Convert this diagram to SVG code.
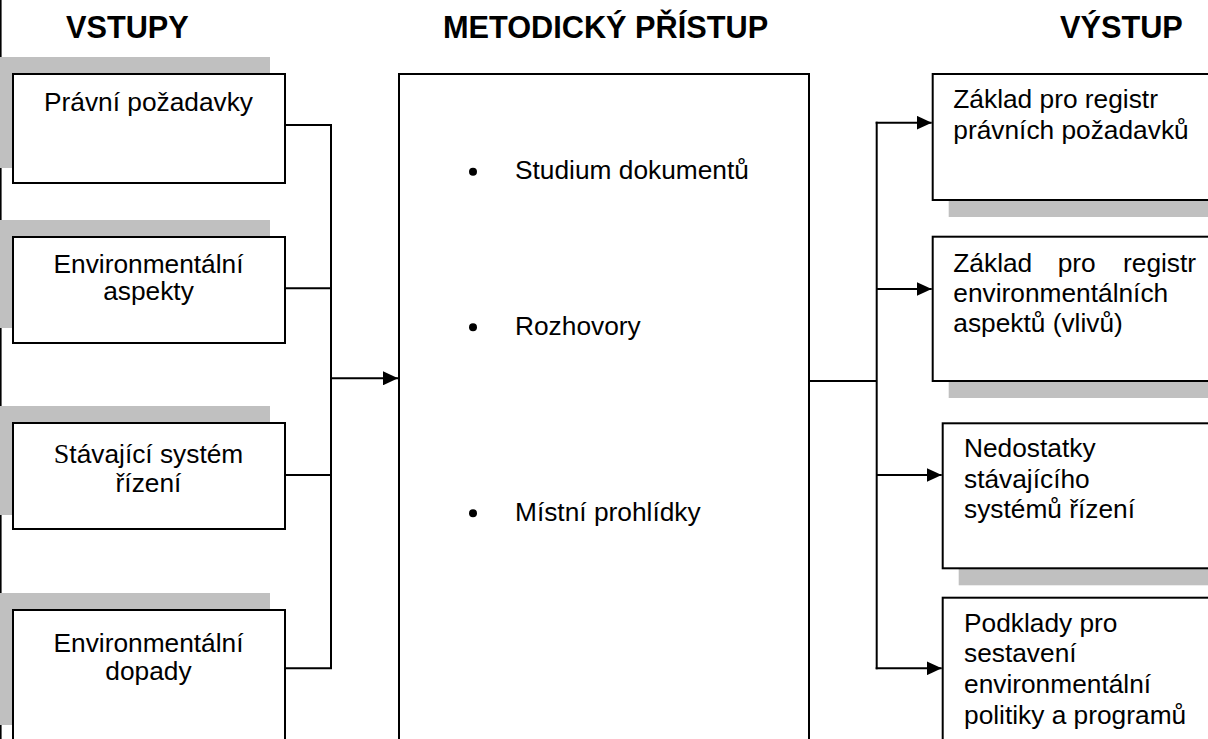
<svg xmlns="http://www.w3.org/2000/svg" width="1208" height="739" viewBox="0 0 1208 739">
  <style>
    .box { fill: #ffffff; stroke: #000000; stroke-width: 2; }
    .shadow { fill: #c0c0c0; stroke: none; }
    .wire { fill: none; stroke: #000000; stroke-width: 2; }
    .head { font-family: "Liberation Sans", Arial, sans-serif; font-weight: bold; font-size: 30.7px; fill: #000000; }
    .txt { font-family: "Liberation Sans", Arial, sans-serif; font-size: 26.3px; fill: #000000; }
    .serif { font-family: "Liberation Serif", "Times New Roman", serif; font-size: 28px; }
    .mid { text-anchor: middle; }
  </style>
  <defs>
    <marker id="arrow" markerUnits="userSpaceOnUse" markerWidth="15" markerHeight="14" refX="15" refY="7" orient="auto">
      <path d="M0,0 L15,7 L0,14 z" fill="#000000"/>
    </marker>
  </defs>

  <rect width="1208" height="739" fill="#ffffff"/>
  <!-- page edge on the left -->
  <line x1="0.8" y1="0" x2="0.8" y2="739" stroke="#000000" stroke-width="1.6"/>

  <!-- column headings -->
  <text class="head" x="66" y="38">VSTUPY</text>
  <text class="head" x="443" y="38">METODICKÝ PŘÍSTUP</text>
  <text class="head" x="1060" y="38">VÝSTUP</text>

  <!-- inputs -->
  <g id="in-legal">
    <rect class="shadow" x="-4" y="57" width="274" height="111"/>
    <rect class="box" x="13" y="74" width="272" height="109"/>
    <text class="txt mid" x="148.5" y="110.7">Právní požadavky</text>
  </g>
  <g id="in-aspects">
    <rect class="shadow" x="-4" y="220" width="274" height="108"/>
    <rect class="box" x="13" y="237" width="272" height="106"/>
    <text class="txt mid" x="148.5" y="272.7">Environmentální</text>
    <text class="txt mid" x="148.5" y="300.3">aspekty</text>
  </g>
  <g id="in-system">
    <rect class="shadow" x="-4" y="406" width="274" height="109"/>
    <rect class="box" x="13" y="423" width="272" height="106"/>
    <text class="txt mid" x="148.5" y="462.7"><tspan class="serif">S</tspan>távající systém</text>
    <text class="txt mid" x="148.5" y="491.7">řízení</text>
  </g>
  <g id="in-impacts">
    <rect class="shadow" x="-4" y="593" width="274" height="132"/>
    <rect class="box" x="13" y="610" width="272" height="150"/>
    <text class="txt mid" x="148.5" y="651.7">Environmentální</text>
    <text class="txt mid" x="148.5" y="680">dopady</text>
  </g>

  <!-- method -->
  <g id="method">
    <rect class="box" x="399" y="74" width="410" height="700"/>
    <circle cx="473" cy="171.7" r="4"/>
    <text class="txt" x="515" y="179">Studium dokumentů</text>
    <circle cx="473" cy="327.3" r="4"/>
    <text class="txt" x="515" y="335">Rozhovory</text>
    <circle cx="473" cy="513.3" r="4"/>
    <text class="txt" x="515" y="521">Místní prohlídky</text>
  </g>

  <!-- outputs -->
  <g id="out-legal">
    <rect class="shadow" x="948.7" y="90" width="280" height="127"/>
    <rect class="box" x="932.7" y="74" width="300" height="126"/>
    <text class="txt" x="953.3" y="108.3">Základ pro registr</text>
    <text class="txt" x="953.3" y="139.3">právních požadavků</text>
  </g>
  <g id="out-aspects">
    <rect class="shadow" x="948.7" y="252.7" width="280" height="145.3"/>
    <rect class="box" x="932.7" y="236.7" width="300" height="144.3"/>
    <text class="txt" x="953.3" y="271.7">Základ</text>
    <text class="txt" x="1057.7" y="271.7">pro</text>
    <text class="txt" x="1123" y="271.7">registr</text>
    <text class="txt" x="953.3" y="301.7">environmentálních</text>
    <text class="txt" x="953.3" y="331.7">aspektů (vlivů)</text>
  </g>
  <g id="out-gaps">
    <rect class="shadow" x="958.7" y="439.3" width="270" height="146"/>
    <rect class="box" x="942.7" y="423.3" width="300" height="145"/>
    <text class="txt" x="964" y="457.3">Nedostatky</text>
    <text class="txt" x="964" y="488.3">stávajícího</text>
    <text class="txt" x="964" y="518.3">systémů řízení</text>
  </g>
  <g id="out-policy">
    <rect class="box" x="942.7" y="597.7" width="300" height="170"/>
    <text class="txt" x="964" y="631.7">Podklady pro</text>
    <text class="txt" x="964" y="661.7">sestavení</text>
    <text class="txt" x="964" y="692.7">environmentální</text>
    <text class="txt" x="964" y="724">politiky a programů</text>
  </g>

  <!-- connectors -->
  <g id="connectors">
    <polyline class="wire" points="285,125 331,125 331,668.3 285,668.3"/>
    <line class="wire" x1="285" y1="288.3" x2="331" y2="288.3"/>
    <line class="wire" x1="285" y1="475" x2="331" y2="475"/>
    <line class="wire" x1="331" y1="378.3" x2="398" y2="378.3" marker-end="url(#arrow)"/>

    <line class="wire" x1="809" y1="381" x2="876.7" y2="381"/>
    <line class="wire" x1="876.7" y1="121.7" x2="876.7" y2="669.3"/>
    <line class="wire" x1="875.7" y1="122.7" x2="931.7" y2="122.7" marker-end="url(#arrow)"/>
    <line class="wire" x1="876.7" y1="289" x2="931.7" y2="289" marker-end="url(#arrow)"/>
    <line class="wire" x1="876.7" y1="475" x2="941.7" y2="475" marker-end="url(#arrow)"/>
    <line class="wire" x1="875.7" y1="668.3" x2="941.7" y2="668.3" marker-end="url(#arrow)"/>
  </g>
</svg>
